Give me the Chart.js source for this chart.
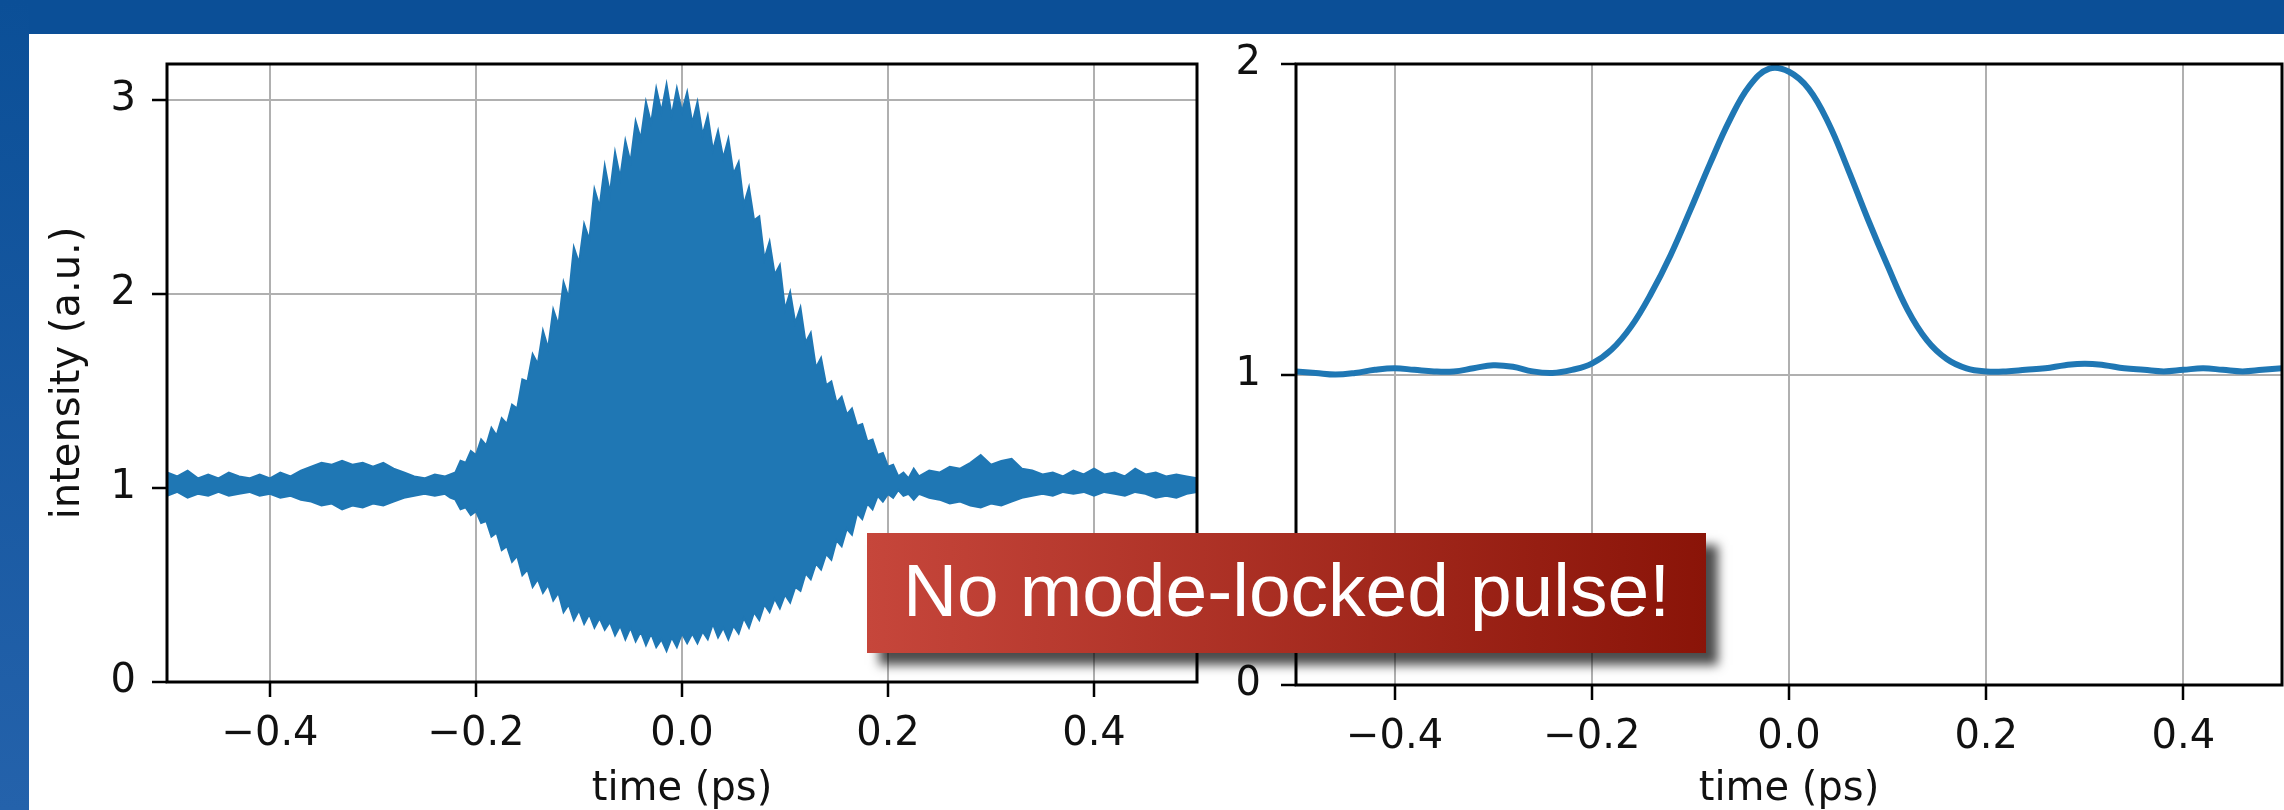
<!DOCTYPE html>
<html>
<head>
<meta charset="utf-8">
<script src="https://cdn.jsdelivr.net/npm/chart.js@4/dist/chart.umd.min.js"></script>
<style>
  html, body { margin: 0; padding: 0; width: 2284px; height: 810px; overflow: hidden; background: #fff; }
  #topBand { position: absolute; left: 0; top: 0; width: 2284px; height: 34px; background: #0b4f97; }
  #sideBand { position: absolute; left: 0; top: 0; width: 29px; height: 810px; background: linear-gradient(#0b4f97, #2462ab); }
  .panel { position: absolute; top: 34px; height: 776px; }
  #leftPanel { left: 29px; width: 1191px; }
  #rightPanel { left: 1220px; width: 1064px; }
  #banner {
    position: absolute; left: 867px; top: 533px; width: 839px; height: 120px;
    background: linear-gradient(to right, #c6463b, #8a1408);
    box-shadow: 12px 12px 10px rgba(0, 0, 0, 0.7);
    color: #fff; font-family: "Liberation Sans", Arial, sans-serif; font-size: 75px;
    line-height: 114px; text-align: center; white-space: nowrap; z-index: 5;
  }
</style>
</head>
<body>
<div id="topBand"></div>
<div id="sideBand"></div>
<div class="panel" id="leftPanel"><canvas id="measured"></canvas></div>
<div class="panel" id="rightPanel"><canvas id="smoothed"></canvas></div>
<div id="banner">No mode-locked pulse!</div>
<script>
// left panel: measured interferometric trace, drawn as upper / lower envelope of the fast fringes
const leftTime = [
  -0.5, -0.49, -0.48, -0.47, -0.46, -0.45, -0.44, -0.43, -0.42, -0.41,
  -0.4, -0.39, -0.38, -0.37, -0.36, -0.35, -0.34, -0.33, -0.32, -0.31,
  -0.3, -0.29, -0.28, -0.27, -0.26, -0.25, -0.24, -0.23,
  -0.225, -0.22, -0.215, -0.21, -0.205, -0.2, -0.195, -0.19, -0.185, -0.18,
  -0.175, -0.17, -0.165, -0.16, -0.155, -0.15, -0.145, -0.14, -0.135, -0.13,
  -0.125, -0.12, -0.115, -0.11, -0.105, -0.1, -0.095, -0.09, -0.085, -0.08,
  -0.075, -0.07, -0.065, -0.06, -0.055, -0.05, -0.045, -0.04, -0.035, -0.03,
  -0.025, -0.02, -0.015, -0.01, -0.005, 0, 0.005, 0.01, 0.015, 0.02,
  0.025, 0.03, 0.035, 0.04, 0.045, 0.05, 0.055, 0.06, 0.065, 0.07,
  0.075, 0.08, 0.085, 0.09, 0.095, 0.1, 0.105, 0.11, 0.115, 0.12,
  0.125, 0.13, 0.135, 0.14, 0.145, 0.15, 0.155, 0.16, 0.165, 0.17,
  0.175, 0.18, 0.185, 0.19, 0.195, 0.2, 0.205, 0.21, 0.215, 0.22,
  0.225,
  0.23, 0.24, 0.25, 0.26, 0.27, 0.28, 0.29, 0.3, 0.31, 0.32,
  0.33, 0.34, 0.35, 0.36, 0.37, 0.38, 0.39, 0.4, 0.41, 0.42,
  0.43, 0.44, 0.45, 0.46, 0.47, 0.48, 0.49, 0.5
];
const leftUpper = [
  1.08, 1.06, 1.09, 1.05, 1.07, 1.05, 1.08, 1.06, 1.05, 1.07,
  1.05, 1.08, 1.06, 1.09, 1.11, 1.13, 1.12, 1.14, 1.12, 1.13,
  1.11, 1.13, 1.10, 1.08, 1.06, 1.05, 1.07, 1.06,
  1.07, 1.08, 1.14, 1.13, 1.19, 1.17, 1.25, 1.22, 1.31, 1.27,
  1.36, 1.33, 1.43, 1.41, 1.56, 1.55, 1.69, 1.64, 1.81, 1.72,
  1.92, 1.84, 2.06, 1.98, 2.24, 2.16, 2.36, 2.28, 2.54, 2.45,
  2.66, 2.52, 2.73, 2.60, 2.79, 2.68, 2.89, 2.80, 2.99, 2.88,
  3.06, 2.94, 3.08, 2.92, 3.06, 2.94, 3.04, 2.88, 2.99, 2.82,
  2.92, 2.74, 2.84, 2.70, 2.80, 2.62, 2.68, 2.46, 2.55, 2.38,
  2.40, 2.18, 2.27, 2.10, 2.15, 1.92, 2.01, 1.85, 1.93, 1.75,
  1.80, 1.62, 1.67, 1.53, 1.55, 1.44, 1.47, 1.38, 1.41, 1.32,
  1.33, 1.24, 1.25, 1.17, 1.18, 1.11, 1.12, 1.06, 1.08, 1.05,
  1.10,
  1.06, 1.09, 1.08, 1.11, 1.10, 1.13, 1.17, 1.12, 1.14, 1.15,
  1.10, 1.09, 1.07, 1.08, 1.06, 1.09, 1.07, 1.10, 1.07, 1.08,
  1.06, 1.10, 1.07, 1.08, 1.06, 1.07, 1.06, 1.05
];
const leftLower = [
  0.96, 0.98, 0.95, 0.97, 0.96, 0.98, 0.96, 0.97, 0.98, 0.96,
  0.97, 0.95, 0.96, 0.94, 0.93, 0.91, 0.92, 0.89, 0.91, 0.90,
  0.92, 0.91, 0.93, 0.95, 0.96, 0.97, 0.96, 0.97,
  0.95, 0.94, 0.89, 0.90, 0.86, 0.88, 0.82, 0.83, 0.75, 0.77,
  0.68, 0.70, 0.62, 0.65, 0.55, 0.58, 0.49, 0.53, 0.46, 0.50,
  0.42, 0.46, 0.36, 0.40, 0.32, 0.37, 0.30, 0.35, 0.28, 0.33,
  0.27, 0.31, 0.24, 0.29, 0.22, 0.28, 0.21, 0.26, 0.19, 0.25,
  0.18, 0.22, 0.16, 0.23, 0.18, 0.25, 0.20, 0.25, 0.20, 0.26,
  0.22, 0.30, 0.23, 0.28, 0.22, 0.29, 0.25, 0.33, 0.28, 0.36,
  0.32, 0.40, 0.36, 0.43, 0.38, 0.45, 0.41, 0.49, 0.47, 0.56,
  0.53, 0.61, 0.58, 0.66, 0.63, 0.73, 0.70, 0.79, 0.76, 0.87,
  0.84, 0.92, 0.89, 0.96, 0.93, 0.97, 0.95, 0.99, 0.96, 0.97,
  0.94,
  0.97, 0.95, 0.94, 0.92, 0.93, 0.91, 0.90, 0.92, 0.91, 0.93,
  0.95, 0.96, 0.97, 0.96, 0.98, 0.97, 0.98, 0.96, 0.98, 0.97,
  0.96, 0.98, 0.97, 0.95, 0.96, 0.95, 0.97, 0.98
];

// right panel: smoothed (averaged) intensity
const rightTime = [
  -0.5, -0.48, -0.46, -0.44, -0.42, -0.4, -0.38, -0.36, -0.34, -0.32,
  -0.3, -0.28, -0.26, -0.24, -0.22, -0.2, -0.18, -0.16, -0.14, -0.12,
  -0.1, -0.08, -0.06, -0.04, -0.02, 0, 0.02, 0.04, 0.06, 0.08,
  0.1, 0.12, 0.14, 0.16, 0.18, 0.2, 0.22, 0.24, 0.26, 0.28,
  0.3, 0.32, 0.34, 0.36, 0.38, 0.4, 0.42, 0.44, 0.46, 0.48,
  0.5
];
const rightIntensity = [
  1.01, 1.005, 1.0, 1.005, 1.015, 1.02, 1.015, 1.01, 1.01, 1.02,
  1.03, 1.025, 1.01, 1.005, 1.015, 1.035, 1.08, 1.155, 1.26, 1.385,
  1.53, 1.68, 1.82, 1.93, 1.985, 1.975, 1.92, 1.81, 1.66, 1.50,
  1.35, 1.21, 1.11, 1.05, 1.02, 1.01, 1.01, 1.015, 1.02, 1.03,
  1.035, 1.03, 1.02, 1.015, 1.01, 1.015, 1.02, 1.015, 1.01, 1.015,
  1.02
];

const xTickValues = [-0.4, -0.2, 0, 0.2, 0.4];
const xTickLabels = ["\u22120.4", "\u22120.2", "0.0", "0.2", "0.4"];
const leftYTicks = [0, 1, 2, 3];
const rightYTicks = [0, 1, 2];

const lineBlue = "#1f77b4";
Chart.defaults.font.family = "'DejaVu Sans', sans-serif";
Chart.defaults.color = "#111";

// matplotlib-style box around the plot area
const framePlugin = {
  id: "frame",
  afterDatasetsDraw(chart) {
    const { ctx, chartArea: a } = chart;
    ctx.save();
    ctx.strokeStyle = "#000";
    ctx.lineWidth = 3;
    ctx.strokeRect(a.left, a.top, a.right - a.left, a.bottom - a.top);
    ctx.restore();
  },
};

function makeOptions(cfg) {
  return {
    responsive: true,
    maintainAspectRatio: false,
    animation: false,
    devicePixelRatio: 1,
    layout: { autoPadding: false, padding: { top: 30, right: cfg.padRight, left: 0, bottom: 0 } },
    plugins: { legend: { display: false }, tooltip: { enabled: false } },
    scales: {
      x: {
        type: "linear",
        min: -0.5,
        max: 0.5,
        afterBuildTicks: (scale) => {
          scale.ticks = xTickValues.map((v) => ({ value: v }));
        },
        afterFit: (scale) => {
          scale.height = cfg.xHeight;
          scale.paddingLeft = 0;
          scale.paddingRight = 0;
        },
        ticks: {
          autoSkip: false,
          maxRotation: 0,
          padding: 14,
          font: { size: 40 },
          callback: (value, index) => xTickLabels[index],
        },
        grid: { color: "#b0b0b0", lineWidth: 2, tickColor: "#000", tickLength: 15, tickWidth: 2.5 },
        border: { display: false },
        title: { display: true, text: "time (ps)", font: { size: 40, lineHeight: 1.0 }, padding: { top: 0, bottom: 0 } },
      },
      y: {
        type: "linear",
        min: 0,
        max: cfg.yMax,
        afterBuildTicks: (scale) => {
          scale.ticks = cfg.yTicks.map((v) => ({ value: v }));
        },
        afterFit: (scale) => {
          scale.width = cfg.yWidth;
          scale.paddingTop = 0;
          scale.paddingBottom = 0;
        },
        ticks: { padding: cfg.yPad, font: { size: 40 }, callback: (v) => String(v) },
        grid: { color: "#b0b0b0", lineWidth: 2, tickColor: "#000", tickLength: 15, tickWidth: 2.5 },
        border: { display: false },
        title: {
          display: !!cfg.yTitle,
          text: cfg.yTitle || "",
          font: { size: 40 },
          padding: { top: 16, bottom: 0 },
        },
      },
    },
  };
}

new Chart(document.getElementById("measured"), {
  type: "line",
  data: {
    datasets: [
      {
        label: "upper",
        data: leftTime.map((t, i) => ({ x: t, y: leftUpper[i] })),
        borderColor: lineBlue,
        borderWidth: 2,
        pointRadius: 0,
        fill: false,
      },
      {
        label: "lower",
        data: leftTime.map((t, i) => ({ x: t, y: leftLower[i] })),
        borderColor: lineBlue,
        backgroundColor: lineBlue,
        borderWidth: 2,
        pointRadius: 0,
        fill: "-1",
      },
    ],
  },
  options: makeOptions({ yMax: 3.186, yTicks: leftYTicks, yWidth: 138, yPad: 16, xHeight: 128, padRight: 23, yTitle: "intensity (a.u.)" }),
  plugins: [framePlugin],
});

new Chart(document.getElementById("smoothed"), {
  type: "line",
  data: {
    datasets: [
      {
        label: "smoothed",
        data: rightTime.map((t, i) => ({ x: t, y: rightIntensity[i] })),
        borderColor: lineBlue,
        borderWidth: 6,
        pointRadius: 0,
        tension: 0.4,
        fill: false,
      },
    ],
  },
  options: makeOptions({ yMax: 2, yTicks: rightYTicks, yWidth: 76, yPad: 20, xHeight: 125, padRight: 2 }),
  plugins: [framePlugin],
});
</script>
</body>
</html>
